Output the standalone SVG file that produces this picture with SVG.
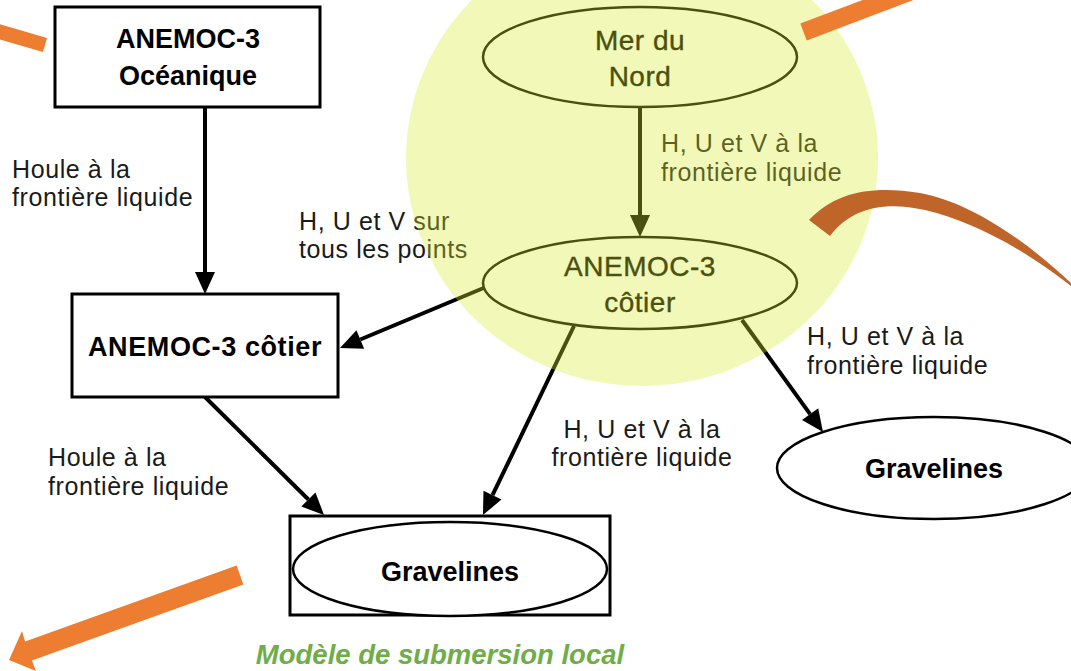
<svg xmlns="http://www.w3.org/2000/svg" width="1071" height="671" viewBox="0 0 1071 671">
<style>
.box{fill:#fff;stroke:#000;stroke-width:3}
.ell{fill:#fff;stroke:#000;stroke-width:2.5}
.nt{font-family:"Liberation Sans",Arial,sans-serif;font-weight:bold;font-size:27px;fill:#000;text-anchor:middle}
.et{font-family:"Liberation Sans",Arial,sans-serif;font-size:28px;fill:#000;stroke:#000;stroke-width:0.4px;text-anchor:middle;letter-spacing:0.5px}
.lb{font-family:"Liberation Sans",Arial,sans-serif;font-size:25px;fill:#1a1a1a;letter-spacing:0.6px}
.cn{stroke:#000;stroke-width:4;fill:none}
</style>
<defs>
<marker id="ah" markerUnits="userSpaceOnUse" markerWidth="24" markerHeight="22" refX="0" refY="10" orient="auto" overflow="visible">
<path d="M0,0 L22,10 L0,20 Z" fill="#000"/>
</marker>
</defs>
<g id="connectors">
<line class="cn" x1="205" y1="108" x2="205" y2="272" marker-end="url(#ah)"/>
<line class="cn" x1="640" y1="107" x2="640" y2="215" marker-end="url(#ah)"/>
<line class="cn" x1="486" y1="287" x2="360.3" y2="339.5" marker-end="url(#ah)"/>
<line class="cn" x1="574" y1="326" x2="492.5" y2="495.2" marker-end="url(#ah)"/>
<line class="cn" x1="742" y1="320" x2="810.1" y2="414.2" marker-end="url(#ah)"/>
<line class="cn" x1="205" y1="397" x2="308.4" y2="499.5" marker-end="url(#ah)"/>
</g>
<g id="n-oceanique">
<rect class="box" x="55" y="7" width="265" height="100"/>
<text class="nt" x="188" y="48">ANEMOC-3</text>
<text class="nt" x="188" y="85">Océanique</text>
</g>
<g id="n-cotier-rect">
<rect class="box" x="72" y="294" width="266" height="103"/>
<text class="nt" x="205" y="356" style="letter-spacing:0.6px">ANEMOC-3 côtier</text>
</g>
<g id="n-gravelines-local">
<rect class="box" x="290" y="516" width="320" height="99"/>
<ellipse class="ell" cx="450" cy="569" rx="157" ry="47"/>
<text class="nt" x="450" y="581">Gravelines</text>
</g>
<g id="n-gravelines-right">
<ellipse class="ell" cx="934" cy="468" rx="157" ry="51"/>
<text class="nt" x="934" y="478">Gravelines</text>
</g>
<g id="n-mer-du-nord">
<ellipse class="ell" cx="640" cy="57" rx="157" ry="50"/>
<text class="et" x="640" y="50">Mer du</text>
<text class="et" x="640" y="86">Nord</text>
</g>
<g id="n-cotier-ellipse">
<ellipse class="ell" cx="640" cy="283" rx="157" ry="46"/>
<text class="et" x="640" y="276">ANEMOC-3</text>
<text class="et" x="640" y="312">côtier</text>
</g>
<g id="labels">
<text class="lb" x="12" y="178">Houle à la</text>
<text class="lb" x="12" y="206">frontière liquide</text>
<text class="lb" x="299" y="230">H, U et V sur</text>
<text class="lb" x="299" y="258">tous les points</text>
<text class="lb" x="661" y="152">H, U et V à la</text>
<text class="lb" x="661" y="181">frontière liquide</text>
<text class="lb" x="807" y="345">H, U et V à la</text>
<text class="lb" x="807" y="374">frontière liquide</text>
<text class="lb" x="48" y="466">Houle à la</text>
<text class="lb" x="48" y="495">frontière liquide</text>
<text class="lb" x="642" y="438" text-anchor="middle">H, U et V à la</text>
<text class="lb" x="642" y="466" text-anchor="middle">frontière liquide</text>
</g>
<ellipse id="zone" cx="642" cy="158" rx="236" ry="228" fill="rgb(218,235,47)" fill-opacity="0.34"/>
<g id="highlights">
<line x1="-10" y1="29" x2="45" y2="45" stroke="#ED7D31" stroke-width="14.5"/>
<line x1="803.5" y1="32" x2="925" y2="-14" stroke="#ED7D31" stroke-width="18"/>
<polygon points="236.6,565.6 243.4,584.4 31.9,660.4 36,671 9,660 22,631 25.1,641.6" fill="#ED7D31"/>
<path d="M809,220 C838,190 875,186 920,193 C970,202 1025,240 1071,283 L1071,286 C1025,250 975,222 925,210 C885,201 852,207 830,236 Z" fill="#C0652A"/>
</g>
<text x="440" y="664" text-anchor="middle" style="font-family:'Liberation Sans',Arial,sans-serif;font-weight:bold;font-style:italic;font-size:27.5px;fill:#70AD47">Modèle de submersion local</text>
</svg>
